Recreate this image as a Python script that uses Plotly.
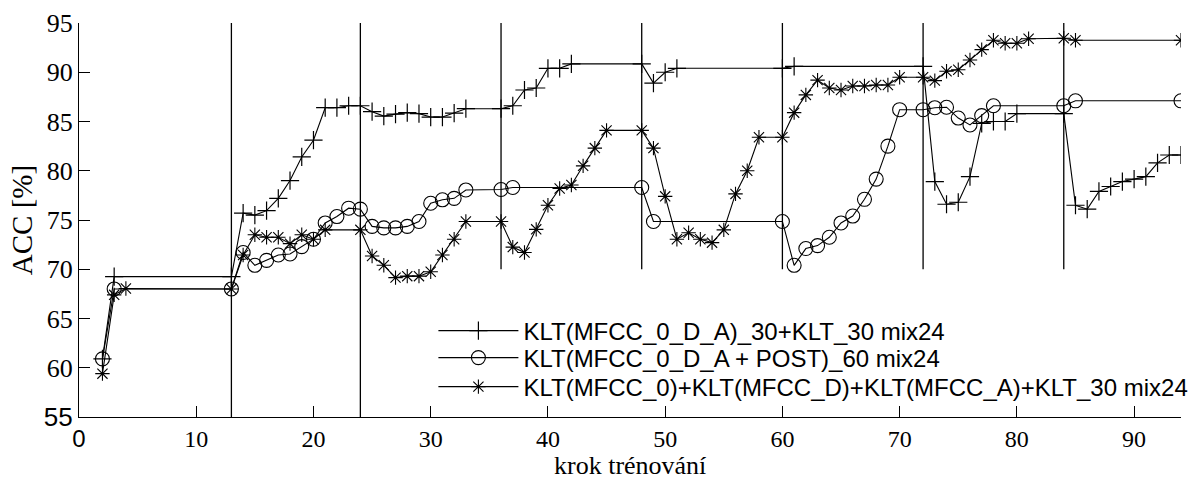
import plotly.graph_objects as go

# ---- data ----
plus_x = [2, 3, 13, 14, 15, 16, 17, 18, 19, 20, 21, 22, 23, 24, 25, 26, 27, 28, 29, 30, 31, 32, 33,
          36, 37, 38, 39, 40, 41, 42, 48, 49, 50, 51, 60, 61, 72, 73, 74, 75, 76, 77, 78, 79, 80,
          84, 85, 86, 87, 88, 89, 90, 91, 92, 93, 94]
plus_y = [60.9, 69.25, 69.25, 75.7, 75.5, 75.95, 77.2, 79.0, 81.4, 83.1, 86.4, 86.4, 86.6, 86.6, 86.0,
          85.55, 85.75, 85.9, 85.8, 85.45, 85.45, 85.85, 86.3,
          86.3, 86.6, 88.2, 88.4, 90.4, 90.4, 90.85, 90.85, 88.9, 90.0, 90.4, 90.4, 90.6, 90.6,
          78.9, 76.6, 76.8, 79.4, 84.8, 85.0, 85.0, 85.8,
          85.8, 76.5, 76.1, 77.9, 78.4, 78.9, 79.15, 79.4, 80.8, 81.6, 81.6]

circ_x = [2, 3, 13, 14, 15, 16, 17, 18, 19, 20, 21, 22, 23, 24, 25, 26, 27, 28, 29, 30, 31, 32, 33,
          36, 37, 48, 49, 60, 61, 62, 63, 64, 65, 66, 67, 68, 69, 70, 72, 73, 74, 75, 76, 77, 78,
          84, 85, 94]
circ_y = [60.9, 68.0, 68.0, 71.7, 70.4, 70.9, 71.45, 71.55, 72.3, 73.05, 74.7, 75.35, 76.2, 76.1,
          74.35, 74.2, 74.2, 74.35, 74.85, 76.7, 77.05, 77.2, 78.05,
          78.1, 78.3, 78.3, 74.85, 74.85, 70.4, 72.1, 72.4, 73.25, 74.7, 75.4, 77.1, 79.15, 82.5,
          86.2, 86.2, 86.4, 86.45, 85.35, 84.65, 85.6, 86.6,
          86.6, 87.1, 87.1]

star_x = [2, 3, 4, 13, 14, 15, 16, 17, 18, 19, 20, 21, 24, 25, 26, 27, 28, 29, 30, 31, 32, 33,
          36, 37, 38, 39, 40, 41, 42, 43, 44, 45, 48, 49, 50, 51, 52, 53, 54, 55, 56, 57, 58,
          60, 61, 62, 63, 64, 65, 66, 67, 68, 69, 70, 72, 73, 74, 75, 76, 77, 78, 79, 80, 81,
          84, 85, 94]
star_y = [59.4, 67.4, 68.05, 68.0, 71.45, 73.5, 73.25, 73.25, 72.6, 73.5, 73.05, 74.0, 74.0,
          71.35, 70.4, 69.15, 69.3, 69.3, 69.75, 71.45, 73.05, 74.85,
          74.85, 72.25, 71.7, 74.05, 76.5, 78.2, 78.55, 80.5, 82.3, 84.1, 84.1, 82.3, 77.4,
          73.05, 73.7, 73.05, 72.7, 74.0, 77.65, 80.0, 83.4,
          83.4, 85.9, 87.7, 89.2, 88.4, 88.2, 88.6, 88.6, 88.7, 88.7, 89.5, 89.5, 89.15, 90.1,
          90.25, 91.25, 92.3, 93.25, 92.95, 92.95, 93.4,
          93.45, 93.25, 93.25]

series_names = ["KLT(MFCC_0_D_A)_30+KLT_30 mix24",
                "KLT(MFCC_0_D_A + POST)_60 mix24",
                "KLT(MFCC_0)+KLT(MFCC_D)+KLT(MFCC_A)+KLT_30 mix24"]

vline_x = [13, 24, 36, 48, 60, 72, 84]
vline_bottom = [55, 55, 70, 70, 70, 70, 70]
vline_top = [95, 95, 95, 95, 95, 95, 95]

x_tickvals = [0, 10, 20, 30, 40, 50, 60, 70, 80, 90]
y_tickvals = [55, 60, 65, 70, 75, 80, 85, 90, 95]

x_title = "krok trénování"
y_title = "ACC [%]"

SERIF = "Liberation Serif"
SANS = "Liberation Sans"


def tick_text(vals, sans_val):
    out = []
    for v in vals:
        if v == sans_val:
            out.append('<span style="font-family:%s">%d</span>' % (SANS, v))
        else:
            out.append(str(v))
    return out


fig = go.Figure()

# vertical step separators
vx, vy = [], []
for x0, b, t in zip(vline_x, vline_bottom, vline_top):
    vx += [x0, x0, None]
    vy += [b, t, None]
fig.add_trace(go.Scatter(x=vx, y=vy, mode="lines", line=dict(color="black", width=1.3),
                         showlegend=False, hoverinfo="skip"))

fig.add_trace(go.Scatter(x=plus_x, y=plus_y, mode="lines+markers", name=series_names[0],
                         legend="legend",
                         line=dict(color="black", width=1.1),
                         marker=dict(symbol="cross-thin-open", size=13, color="black",
                                     line=dict(color="black", width=1.2))))
fig.add_trace(go.Scatter(x=circ_x, y=circ_y, mode="lines+markers", name=series_names[1],
                         legend="legend2",
                         line=dict(color="black", width=1.1),
                         marker=dict(symbol="circle-open", size=14, color="black",
                                     line=dict(color="black", width=1.1))))
fig.add_trace(go.Scatter(x=star_x, y=star_y, mode="lines+markers", name=series_names[2],
                         legend="legend3",
                         line=dict(color="black", width=1.1),
                         marker=dict(symbol="asterisk-open", size=12, color="black",
                                     line=dict(color="black", width=1.1))))


def legend_box(ypos):
    return dict(x=0.3216, y=ypos, xanchor="left", yanchor="middle",
                font=dict(family=SANS, size=24, color="black"),
                bgcolor="rgba(255,255,255,0)", borderwidth=0,
                itemwidth=80, tracegroupgap=0)


fig.update_layout(
    width=1198, height=478,
    margin=dict(l=79, r=17, t=23, b=61, autoexpand=False),
    paper_bgcolor="white", plot_bgcolor="white",
    font=dict(family=SERIF, size=26, color="black"),
    showlegend=True,
    legend=legend_box(0.2183),
    legend2=legend_box(0.1498),
    legend3=legend_box(0.0761),
    xaxis=dict(range=[0, 94], showline=True, linecolor="black", linewidth=1.3,
               ticks="inside", ticklen=11, tickwidth=1.2, tickcolor="black",
               showgrid=False, zeroline=False,
               tickvals=x_tickvals, ticktext=tick_text(x_tickvals, 0),
               tickfont=dict(family=SERIF, size=24)),
    yaxis=dict(range=[55, 95], showline=True, linecolor="black", linewidth=1.3,
               ticks="inside", ticklen=11, tickwidth=1.2, tickcolor="black",
               showgrid=False, zeroline=False,
               tickvals=y_tickvals, ticktext=tick_text(y_tickvals, 55),
               tickfont=dict(family=SERIF, size=26),
               title=dict(text=y_title, font=dict(family=SERIF, size=29), standoff=2)),
    annotations=[dict(text=x_title, xref="paper", yref="paper", x=0.5, y=-0.124,
                      xanchor="center", yanchor="middle", showarrow=False,
                      font=dict(family=SERIF, size=26, color="black"))],
)

fig.write_html("out.html")
